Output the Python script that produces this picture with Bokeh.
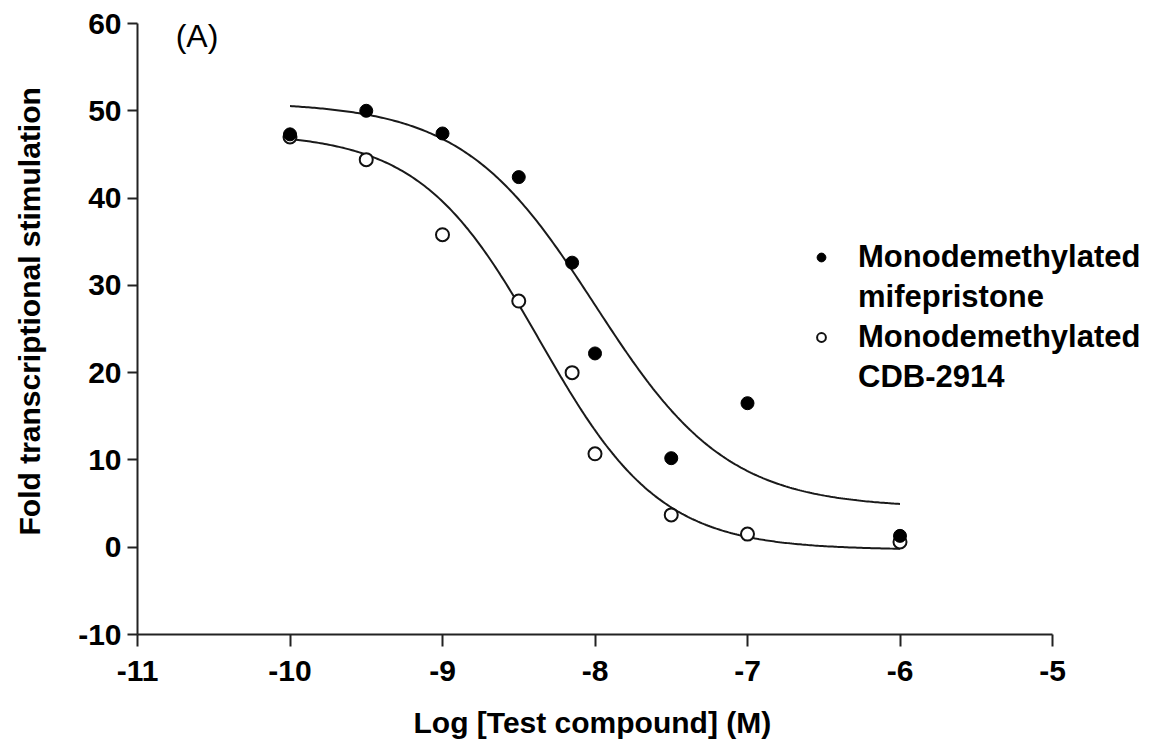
import numpy as np
from bokeh.plotting import figure
from bokeh.models import Legend, LegendItem, Range1d, FixedTicker, Label, Title
from bokeh.embed import file_html
from bokeh.resources import INLINE

# ---- data ----
x_ticks = [-11, -10, -9, -8, -7, -6, -5]
y_ticks = [-10, 0, 10, 20, 30, 40, 50, 60]
x_tick_labels = ["-11", "-10", "-9", "-8", "-7", "-6", "-5"]
y_tick_labels = ["-10", "0", "10", "20", "30", "40", "50", "60"]

log_conc = [-10, -9.5, -9, -8.5, -8.15, -8, -7.5, -7, -6]
mifepristone = [47.3, 50.0, 47.4, 42.4, 32.6, 22.2, 10.2, 16.5, 1.3]
cdb2914 = [47.0, 44.4, 35.8, 28.2, 20.0, 10.7, 3.7, 1.5, 0.6]

# fitted sigmoid parameters (top, bottom, logIC50, hill)
fit_mife = dict(top=51.0, bottom=4.5, logic50=-8.0, hill=1.0)
fit_cdb = dict(top=47.5, bottom=-0.3, logic50=-8.36, hill=1.1)
curve_range = (-10.0, -6.0)

x_title = "Log [Test compound] (M)"
y_title = "Fold transcriptional stimulation"
legend_lines = [("Monodemethylated", "mifepristone"),
                ("Monodemethylated", "CDB-2914")]


def sigmoid(x, top, bottom, logic50, hill):
    return bottom + (top - bottom) / (1.0 + 10 ** ((x - logic50) * hill))


xc = np.linspace(curve_range[0], curve_range[1], 300)

FONT = "Liberation Sans"

# frame extends to the right of the axis end so the legend is not clipped
PX_PER_UNIT = 152.5
FRAME_W = 1016
x_end = x_ticks[0] + FRAME_W / PX_PER_UNIT

p = figure(frame_width=FRAME_W, frame_height=611,
           x_range=Range1d(x_ticks[0], x_end), y_range=Range1d(y_ticks[0], y_ticks[-1]),
           output_backend="svg", toolbar_location=None,
           min_border_left=137, min_border_right=4,
           min_border_top=23, min_border_bottom=109)
p.outline_line_color = None
p.xgrid.visible = False
p.ygrid.visible = False
p.background_fill_color = "white"

# curves
p.line(xc, sigmoid(xc, **fit_mife), line_color="#1a1a1a", line_width=2)
p.line(xc, sigmoid(xc, **fit_cdb), line_color="#1a1a1a", line_width=2)

# points
r_cdb = p.scatter(log_conc, cdb2914, size=13, marker="circle",
                  fill_color="white", line_color="#111111", line_width=2)
r_mife = p.scatter(log_conc, mifepristone, size=13, marker="circle",
                   fill_color="#000000", line_color="#000000", line_width=1)
# invisible renderer used for the second line of each legend entry
r_blank = p.scatter([], [], size=1, fill_alpha=0, line_alpha=0)

# axes
for ax in (p.xaxis[0], p.yaxis[0]):
    ax.axis_line_width = 2
    ax.axis_line_color = "#222222"
    ax.major_tick_line_width = 2
    ax.major_tick_line_color = "#222222"
    ax.major_tick_in = 0
    ax.minor_tick_line_color = None
    ax.major_label_text_font = FONT
    ax.major_label_text_font_style = "bold"
    ax.major_label_text_font_size = "30px"
    ax.major_label_text_color = "#000000"

p.xaxis.ticker = FixedTicker(ticks=x_ticks)
p.yaxis.ticker = FixedTicker(ticks=y_ticks)
p.xaxis.bounds = (x_ticks[0], x_ticks[-1])
p.xaxis.major_label_overrides = dict(zip(x_ticks, x_tick_labels))
p.yaxis.major_label_overrides = dict(zip(y_ticks, y_tick_labels))
p.xaxis.major_tick_out = 12
p.yaxis.major_tick_out = 10
p.xaxis.major_label_standoff = 14
p.yaxis.major_label_standoff = 6
# blank spacer label so the y title panel reaches the page edge
p.yaxis.axis_label = " "
p.yaxis.axis_label_text_font_size = "1px"
p.yaxis.axis_label_standoff = 14

# axis titles as side-panel titles so they can be centred on the axis bounds
p.add_layout(Title(text=x_title, align="left", offset=276, standoff=40,
                   text_font=FONT, text_font_style="bold",
                   text_font_size="30px", text_color="#000000"), "below")
p.add_layout(Title(text=y_title, align="left", offset=99, standoff=20,
                   vertical_align="top",
                   text_font=FONT, text_font_style="bold",
                   text_font_size="30px", text_color="#000000"), "left")

# panel label
p.add_layout(Label(x=-10.75, y=60, y_offset=6, text="(A)", text_baseline="top",
                   text_font=FONT, text_font_size="32px", text_color="#000000"))

legend = Legend(items=[
    LegendItem(label=legend_lines[0][0], renderers=[r_mife]),
    LegendItem(label=legend_lines[0][1], renderers=[r_blank]),
    LegendItem(label=legend_lines[1][0], renderers=[r_cdb]),
    LegendItem(label=legend_lines[1][1], renderers=[r_blank]),
], location=(673, 239))
legend.label_text_font = FONT
legend.label_text_font_style = "bold"
legend.label_text_font_size = "31px"
legend.label_text_color = "#000000"
legend.border_line_color = None
legend.background_fill_alpha = 0
legend.padding = 0
legend.margin = 0
legend.spacing = 4
legend.glyph_width = 22
legend.glyph_height = 22
legend.label_height = 22
legend.label_standoff = 26
p.add_layout(legend)

open("out.html", "w").write(file_html(p, INLINE))
